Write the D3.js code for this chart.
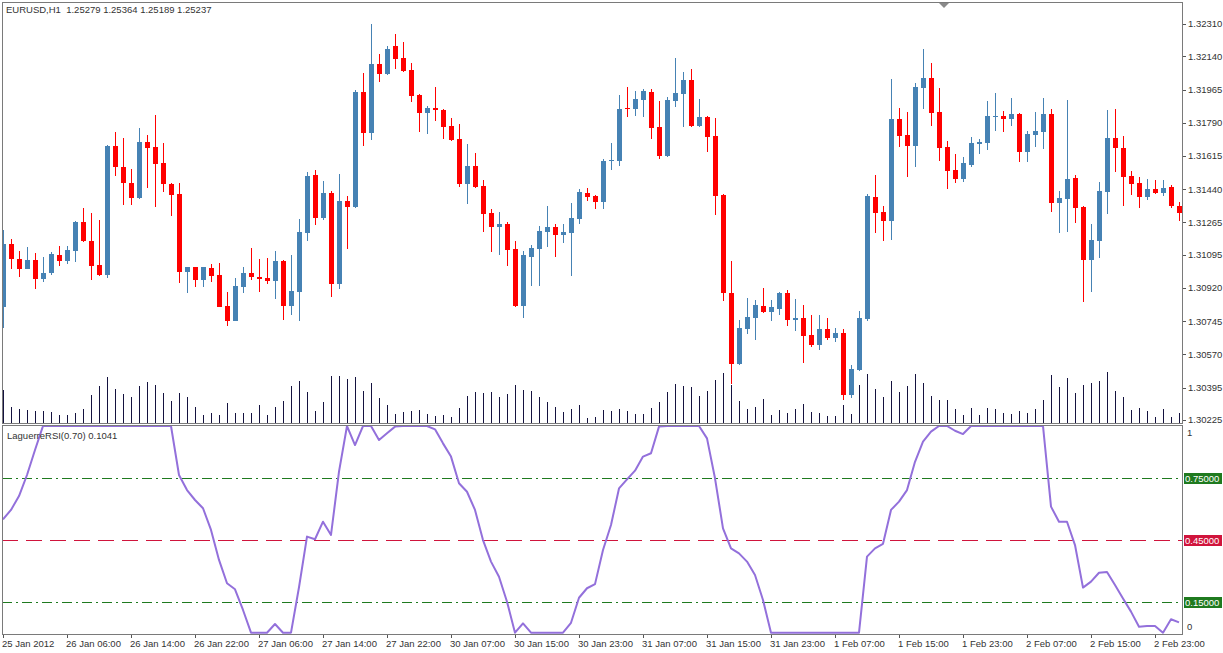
<!DOCTYPE html>
<meta charset="utf-8">
<html>
  <head>
    <title>EURUSD H1 with LaguerreRSI</title>
    <style>
      body { margin: 0; background: #fff; }
      svg { display: block; }
      text { font-family: "Liberation Sans", Arial, sans-serif; font-size: 9.5px; fill: #333; white-space: pre; }
      .frame { fill: none; stroke: #7a7a7a; stroke-width: 1px; shape-rendering: crispEdges; }
      .tick { stroke: #555; stroke-width: 1px; shape-rendering: crispEdges; }
      .wick { stroke-width: 1px; shape-rendering: crispEdges; }
      .vol { stroke: #14123f; stroke-width: 1px; shape-rendering: crispEdges; }
      .rsi { fill: none; stroke: #9370db; stroke-width: 2px; stroke-linejoin: round; }
    </style>
  </head>
  <body>
    <script src="https://d3js.org/d3.v7.min.js"></script>
    <script>

      // --- data (one entry per hourly bar) ---
      var opens = [
        1.30820,1.31151,1.31072,1.31020,1.31067,1.30967,1.30999,1.31093,1.31062,1.31114,
        1.31267,1.31167,1.31041,1.30988,1.31667,1.31557,1.31473,1.31394,1.31688,1.31662,
        1.31578,1.31467,1.31415,1.31004,1.31030,1.30962,1.31025,1.30988,1.30825,1.30746,
        1.30925,1.30999,1.30978,1.30972,1.30957,1.31062,1.30825,1.30899,1.31209,1.31515,
        1.31288,1.31420,1.30941,1.31378,1.31346,1.31952,1.31736,1.32099,1.32046,1.32194,
        1.32131,1.32067,1.31936,1.31841,1.31867,1.31857,1.31773,1.31704,1.31467,1.31562,
        1.31457,1.31315,1.31241,1.31257,1.31125,1.30825,1.31083,1.31125,1.31215,1.31241,
        1.31199,1.31209,1.31283,1.31420,1.31404,1.31372,1.31588,1.31588,1.31867,1.31862,
        1.31910,1.31952,1.31767,1.31615,1.31904,1.31941,1.32015,1.31773,1.31820,1.31720,
        1.31409,1.30893,1.30520,1.30704,1.30762,1.30825,1.30793,1.30809,1.30893,1.30751,
        1.30762,1.30672,1.30620,1.30704,1.30656,1.30683,1.30356,1.30488,1.30756,1.31399,
        1.31320,1.31272,1.31809,1.31725,1.31667,1.31973,1.32025,1.31846,1.31662,1.31541,
        1.31494,1.31567,1.31678,1.31683,1.31820,1.31825,1.31809,1.31836,1.31636,1.31725,
        1.31741,1.31836,1.31367,1.31388,1.31499,1.31346,1.31067,1.31167,1.31425,1.31709,
        1.31657,1.31509,1.31473,1.31399,1.31441,1.31420,1.31451,1.31351
      ];
      var highs = [
        1.31225,1.31178,1.31114,1.31136,1.31104,1.31083,1.31109,1.31141,1.31141,1.31272,
        1.31341,1.31315,1.31278,1.31673,1.31741,1.31709,1.31546,1.31762,1.31725,1.31831,
        1.31683,1.31473,1.31473,1.31030,1.31030,1.31030,1.31046,1.31051,1.30899,1.30972,
        1.31030,1.31130,1.31072,1.31078,1.31114,1.31067,1.31093,1.31283,1.31530,1.31541,
        1.31483,1.31430,1.31520,1.31404,1.31962,1.32052,1.32310,1.32152,1.32194,1.32257,
        1.32215,1.32104,1.31941,1.31878,1.31978,1.31862,1.31815,1.31783,1.31678,1.31630,
        1.31488,1.31336,1.31320,1.31267,1.31167,1.31114,1.31146,1.31246,1.31351,1.31257,
        1.31257,1.31367,1.31441,1.31446,1.31409,1.31599,1.31683,1.31936,1.31978,1.31957,
        1.31967,1.31967,1.31904,1.31925,1.32131,1.32057,1.32073,1.31915,1.31825,1.31815,
        1.31415,1.31062,1.30751,1.30867,1.30857,1.30920,1.30857,1.30899,1.30909,1.30862,
        1.30830,1.30778,1.30778,1.30762,1.30709,1.30704,1.30514,1.30799,1.31415,1.31515,
        1.31351,1.32020,1.31867,1.31846,1.31999,1.32178,1.32104,1.31973,1.31694,1.31625,
        1.31609,1.31715,1.31704,1.31904,1.31946,1.31852,1.31920,1.31841,1.31746,1.31846,
        1.31920,1.31862,1.31430,1.31910,1.31515,1.31351,1.31257,1.31478,1.31857,1.31862,
        1.31720,1.31536,1.31504,1.31494,1.31488,1.31488,1.31462,1.31372
      ];
      var lows = [
        1.30709,1.31020,1.30978,1.31020,1.30914,1.30951,1.30988,1.31036,1.31046,1.31057,
        1.31162,1.30962,1.30983,1.30972,1.31509,1.31357,1.31357,1.31388,1.31446,1.31346,
        1.31425,1.31299,1.30946,1.30893,1.30925,1.30925,1.30951,1.30820,1.30720,1.30746,
        1.30893,1.30962,1.30899,1.30941,1.30862,1.30751,1.30778,1.30746,1.31167,1.31251,
        1.31278,1.30872,1.30914,1.31125,1.31341,1.31667,1.31699,1.32004,1.32041,1.32073,
        1.32057,1.31899,1.31741,1.31731,1.31799,1.31704,1.31694,1.31451,1.31362,1.31446,
        1.31215,1.31109,1.31093,1.31036,1.30820,1.30762,1.30930,1.30930,1.31136,1.31083,
        1.31157,1.30983,1.31257,1.31378,1.31336,1.31336,1.31541,1.31562,1.31820,1.31825,
        1.31820,1.31704,1.31599,1.31609,1.31873,1.31767,1.31767,1.31767,1.31636,1.31304,
        1.30851,1.30414,1.30514,1.30678,1.30646,1.30788,1.30746,1.30778,1.30720,1.30693,
        1.30525,1.30609,1.30593,1.30646,1.30635,1.30330,1.30341,1.30483,1.30746,1.31209,
        1.31167,1.31172,1.31662,1.31504,1.31557,1.31862,1.31773,1.31588,1.31441,1.31473,
        1.31478,1.31557,1.31625,1.31646,1.31746,1.31741,1.31773,1.31583,1.31583,1.31662,
        1.31652,1.31320,1.31209,1.31215,1.31262,1.30846,1.30899,1.31078,1.31309,1.31530,
        1.31351,1.31409,1.31341,1.31383,1.31415,1.31404,1.31341,1.31272
      ];
      var closes = [
        1.31151,1.31072,1.31020,1.31067,1.30967,1.30999,1.31099,1.31062,1.31120,1.31267,
        1.31167,1.31036,1.30988,1.31667,1.31557,1.31473,1.31394,1.31688,1.31657,1.31573,
        1.31467,1.31409,1.31004,1.31030,1.30962,1.31030,1.30983,1.30820,1.30746,1.30930,
        1.30999,1.30978,1.30967,1.30957,1.31062,1.30825,1.30904,1.31215,1.31509,1.31288,
        1.31420,1.30941,1.31378,1.31346,1.31952,1.31736,1.32099,1.32046,1.32178,1.32125,
        1.32062,1.31931,1.31841,1.31867,1.31857,1.31767,1.31699,1.31467,1.31562,1.31451,
        1.31309,1.31241,1.31257,1.31120,1.30825,1.31093,1.31130,1.31220,1.31241,1.31199,
        1.31215,1.31288,1.31425,1.31399,1.31372,1.31588,1.31594,1.31862,1.31862,1.31915,
        1.31957,1.31762,1.31615,1.31910,1.31946,1.32015,1.31773,1.31820,1.31715,1.31404,
        1.30893,1.30520,1.30709,1.30767,1.30830,1.30793,1.30820,1.30893,1.30751,1.30762,
        1.30667,1.30620,1.30704,1.30656,1.30683,1.30356,1.30493,1.30762,1.31404,1.31315,
        1.31272,1.31809,1.31720,1.31667,1.31978,1.32025,1.31841,1.31657,1.31536,1.31494,
        1.31578,1.31683,1.31688,1.31825,1.31825,1.31809,1.31836,1.31636,1.31731,1.31746,
        1.31836,1.31367,1.31394,1.31494,1.31341,1.31067,1.31172,1.31430,1.31709,1.31657,
        1.31504,1.31467,1.31399,1.31441,1.31420,1.31446,1.31351,1.31315
      ];
      var volumes = [
        1650,800,700,650,600,600,550,400,370,470,
        670,1370,1850,2300,1670,1450,1270,1820,2050,1900,
        1500,1100,1500,1300,770,370,470,400,1000,500,
        470,500,870,400,800,1100,1850,2100,1550,600,
        1050,2350,2350,2200,2300,1600,2000,1250,900,450,
        550,600,650,450,350,400,300,750,1350,1550,
        1500,1550,1300,1450,1900,1650,1600,1300,1050,800,
        550,700,900,250,300,650,600,700,600,450,
        450,750,1050,1550,1950,1850,1800,1350,1600,2150,
        2500,1900,1100,700,800,1200,400,650,500,700,
        950,550,500,350,350,900,450,1900,2450,1700,
        1300,2100,1550,1850,2450,2000,1350,1150,1150,700,
        400,750,400,750,700,500,450,600,500,700,
        1150,2400,1800,2250,1500,1900,2000,2100,2550,1600,
        1300,650,750,600,300,700,300,500
      ];
      var laguerre = [
        0.548,0.594,0.661,0.763,0.884,1,1,1,1,1,
        1,1,1,1,1,1,1,1,1,1,
        1,1,0.763,0.690,0.642,0.602,0.497,0.352,0.239,0.210,
        0.110,0,0,0,0.042,0,0,0.22,0.465,0.452,
        0.537,0.473,0.779,1,0.908,1,1,0.932,0.965,0.997,
        1,1,1,1,0.984,0.916,0.852,0.723,0.682,0.594,
        0.448,0.344,0.271,0.150,0,0.045,0,0,0,0,
        0,0.048,0.169,0.215,0.235,0.400,0.521,0.698,0.742,0.784,
        0.852,0.868,0.997,1,1,1,1,1,0.940,0.747,
        0.505,0.408,0.384,0.344,0.279,0.158,0,0,0,0,
        0,0,0,0,0,0,0,0,0.368,0.408,
        0.430,0.594,0.634,0.690,0.827,0.924,0.973,1,1,0.977,
        0.961,1,1,1,1,1,1,1,1,1,
        1,0.610,0.537,0.537,0.424,0.218,0.247,0.290,0.294,0.231,
        0.166,0.102,0.029,0.032,0.032,0,0.065,0.050
      ];

      var priceTicks = [1.32310,1.32140,1.31965,1.31790,1.31615,1.31440,1.31265,
                        1.31095,1.30920,1.30745,1.30570,1.30395,1.30225];
      var timeTickBars = [0,8,16,24,32,40,48,56,64,72,80,88,96,104,112,120,128,136,144];
      var timeTickLabels = ["25 Jan 2012","26 Jan 06:00","26 Jan 14:00","26 Jan 22:00",
        "27 Jan 06:00","27 Jan 14:00","27 Jan 22:00","30 Jan 07:00","30 Jan 15:00",
        "30 Jan 23:00","31 Jan 07:00","31 Jan 15:00","31 Jan 23:00","1 Feb 07:00",
        "1 Feb 15:00","1 Feb 23:00","2 Feb 07:00","2 Feb 15:00","2 Feb 23:00"];
      var levels = [0.75, 0.45, 0.15];
      var levelLabels = ["0.75000", "0.45000", "0.15000"];
      var levelColors = ["#1f7a1f", "#d0143c", "#1f7a1f"];

      var width = 1223, height = 653;
      var plotLeft = 2, plotRight = 1182;
      var topPanel = {top: 2, bottom: 423};
      var lowPanel = {top: 425, bottom: 634};

      var svg = d3.select("body").append("svg")
          .attr("width", width)
          .attr("height", height);

      var x = d3.scaleLinear().domain([0, opens.length - 1]).range([3, 3 + 8 * (opens.length - 1)]);
      var y = d3.scaleLinear().domain([1.30225, 1.32310]).range([420, 24]);
      var yVol = d3.scaleLinear().domain([0, 2600]).range([422.5, 370.5]);
      var yRsi = d3.scaleLinear().domain([0, 1]).range([632.7, 426]);

      var defs = svg.append("defs");
      defs.append("clipPath").attr("id", "clipTop").append("rect")
          .attr("x", plotLeft + 1).attr("y", topPanel.top + 1)
          .attr("width", plotRight - plotLeft - 1).attr("height", topPanel.bottom - topPanel.top - 1);
      defs.append("clipPath").attr("id", "clipLow").append("rect")
          .attr("x", plotLeft + 1).attr("y", lowPanel.top + 1)
          .attr("width", plotRight - plotLeft - 1).attr("height", lowPanel.bottom - lowPanel.top - 1);

      // ---------- top panel: volumes + candles ----------
      var priceG = svg.append("g").attr("clip-path", "url(#clipTop)");

      priceG.selectAll(".vol")
          .data(volumes)
        .enter().append("line")
          .attr("class", "vol")
          .attr("x1", function(d, i) { return Math.round(x(i)) + 0.5; })
          .attr("x2", function(d, i) { return Math.round(x(i)) + 0.5; })
          .attr("y1", yVol(0))
          .attr("y2", function(d) { return yVol(d); });

      var bars = d3.range(opens.length);
      function col(i) { return closes[i] >= opens[i] ? "#4682b4" : "#ff0000"; }

      priceG.selectAll(".wick")
          .data(bars)
        .enter().append("line")
          .attr("class", "wick")
          .attr("x1", function(i) { return Math.round(x(i)) + 0.5; })
          .attr("x2", function(i) { return Math.round(x(i)) + 0.5; })
          .attr("y1", function(i) { return y(highs[i]); })
          .attr("y2", function(i) { return y(lows[i]); })
          .style("stroke", col);

      priceG.selectAll(".body")
          .data(bars)
        .enter().append("rect")
          .attr("class", "body")
          .attr("x", function(i) { return Math.round(x(i)) - 2; })
          .attr("width", 5)
          .attr("y", function(i) { return y(Math.max(opens[i], closes[i])); })
          .attr("height", function(i) {
            return Math.max(1, Math.abs(y(opens[i]) - y(closes[i])));
          })
          .style("fill", col)
          .style("shape-rendering", "crispEdges");

      svg.append("rect").attr("class", "frame")
          .attr("x", plotLeft + 0.5).attr("y", topPanel.top + 0.5)
          .attr("width", plotRight - plotLeft).attr("height", topPanel.bottom - topPanel.top);

      svg.append("text").attr("x", 6).attr("y", 13)
          .text("EURUSD,H1  1.25279 1.25364 1.25189 1.25237");

      // chart shift marker
      svg.append("path")
          .attr("d", "M939,3 L949,3 L944,8 Z")
          .style("fill", "#8a8a8a");

      // price scale
      var pAxis = svg.append("g");
      pAxis.selectAll("line").data(priceTicks).enter().append("line")
          .attr("class", "tick")
          .attr("x1", plotRight + 1).attr("x2", plotRight + 4)
          .attr("y1", function(d) { return Math.round(y(d)) + 0.5; })
          .attr("y2", function(d) { return Math.round(y(d)) + 0.5; });
      pAxis.selectAll("text").data(priceTicks).enter().append("text")
          .attr("x", plotRight + 6)
          .attr("y", function(d) { return y(d); })
          .attr("dy", "0.35em")
          .text(function(d) { return d.toFixed(5); });

      // ---------- lower panel: LaguerreRSI ----------
      var rsiG = svg.append("g").attr("clip-path", "url(#clipLow)");

      rsiG.selectAll(".level")
          .data(levels)
        .enter().append("line")
          .attr("x1", plotLeft).attr("x2", plotRight)
          .attr("y1", function(d) { return Math.round(yRsi(d)) + 0.5; })
          .attr("y2", function(d) { return Math.round(yRsi(d)) + 0.5; })
          .style("stroke", function(d, i) { return levelColors[i]; })
          .style("stroke-width", 1)
          .style("stroke-dasharray", function(d, i) { return i === 1 ? "16,8" : "10,4,2,4"; })
          .style("shape-rendering", "crispEdges");

      var rsiLine = d3.line()
          .x(function(d, i) { return x(i); })
          .y(function(d) { return yRsi(d); });

      rsiG.append("path")
          .datum(laguerre)
          .attr("class", "rsi")
          .attr("d", rsiLine);

      svg.append("rect").attr("class", "frame")
          .attr("x", plotLeft + 0.5).attr("y", lowPanel.top + 0.5)
          .attr("width", plotRight - plotLeft).attr("height", lowPanel.bottom - lowPanel.top);

      svg.append("text").attr("x", 7).attr("y", 439)
          .text("LaguerreRSI(0.70) 0.1041");

      svg.append("text").attr("x", plotRight + 5).attr("y", yRsi(1) + 7)
          .attr("dy", "0.35em").text("1");
      svg.append("text").attr("x", plotRight + 5).attr("y", yRsi(0) - 6)
          .attr("dy", "0.35em").text("0");

      var lvl = svg.selectAll(".lvl").data(levels).enter().append("g");
      lvl.append("rect")
          .attr("x", plotRight + 2).attr("width", 38)
          .attr("y", function(d) { return Math.round(yRsi(d)) - 5; })
          .attr("height", 11)
          .style("fill", function(d, i) { return levelColors[i]; });
      lvl.append("text")
          .attr("x", plotRight + 3)
          .attr("y", function(d) { return Math.round(yRsi(d)) + 0.5; })
          .attr("dy", "0.35em")
          .style("fill", "#fff")
          .text(function(d, i) { return levelLabels[i]; });

      // time scale
      var tAxis = svg.append("g");
      tAxis.selectAll("line").data(timeTickBars).enter().append("line")
          .attr("class", "tick")
          .attr("x1", function(d) { return Math.round(x(d)) + 0.5; })
          .attr("x2", function(d) { return Math.round(x(d)) + 0.5; })
          .attr("y1", lowPanel.bottom + 1).attr("y2", lowPanel.bottom + 4);
      tAxis.selectAll("text").data(timeTickBars).enter().append("text")
          .attr("x", function(d) { return x(d) - 1; })
          .attr("y", 647)
          .text(function(d, i) { return timeTickLabels[i]; });

    </script>
  </body>
</html>
